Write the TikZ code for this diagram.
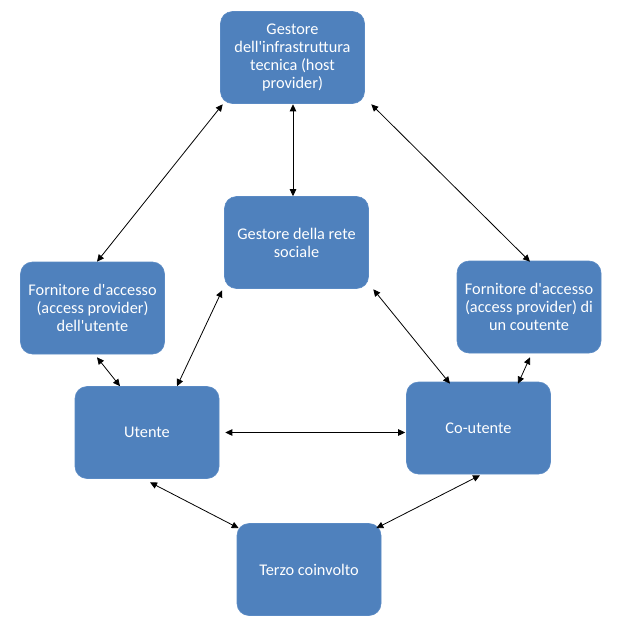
\documentclass[tikz,border=0pt]{standalone}
\usepackage{fontspec}
\setmainfont{Carlito}[Ligatures=TeXOff]
\usetikzlibrary{arrows.meta}
\definecolor{boxblue}{HTML}{4F81BD}
\definecolor{boxedge}{HTML}{5A8AC4}
\begin{document}
\begin{tikzpicture}[x=1pt,y=-1pt,
  box/.style={rectangle, rounded corners=12pt, fill=boxblue, draw=boxedge, line width=0.6pt,
    minimum width=144pt, minimum height=92pt, text=white, align=center,
    font=\fontsize{16.3}{18}\selectfont, inner sep=2pt},
  link/.style={line width=0.8pt, draw=black, {Triangle[length=7pt,width=6.5pt]}-{Triangle[length=7pt,width=6.5pt]}}]
\useasboundingbox (0,0) rectangle (624,632);
\node[box] (top) at (292.5,57.5) {Gestore\\dell'infrastruttura\\tecnica (host\\provider)};
\node[box] (mid) at (296.5,242.5) {Gestore della rete\\sociale};
\node[box] (left) at (92.5,308) {Fornitore d'accesso\\(access provider)\\dell'utente};
\node[box] (right) at (529,307) {Fornitore d'accesso\\(access provider) di\\un coutente};
\node[box] (ut) at (147,432.5) {Utente};
\node[box] (co) at (478.5,428) {Co-utente};
\node[box] (terzo) at (309,569.5) {Terzo coinvolto};
% connectors
\draw[link] ([xshift=2.5pt,yshift=-0.5pt]top.south west) -- ([xshift=4.5pt]left.north);
\draw[link] ([xshift=0.5pt,yshift=-0.5pt]top.south) -- ([xshift=-3.5pt]mid.north);
\draw[link] ([xshift=6.5pt,yshift=-0.5pt]top.south east) -- ([xshift=1pt,yshift=-1pt]right.north);
\draw[link] ([xshift=4.5pt,yshift=-3pt]left.south) -- ([xshift=-27pt]ut.north);
\draw[link] ([xshift=-2pt,yshift=-1.5pt]mid.south west) -- ([xshift=30pt]ut.north);
\draw[link] ([xshift=4.5pt,yshift=-0.5pt]mid.south east) -- ([xshift=-28.5pt,yshift=-2pt]co.north);
\draw[link] ([xshift=1pt,yshift=-4pt]right.south) -- ([xshift=39.5pt,yshift=-2pt]co.north);
\draw[link] ([xshift=6pt]ut.east) -- ([xshift=-1pt,yshift=-4.5pt]co.west);
\draw[link] ([xshift=3pt,yshift=-3.5pt]ut.south) -- ([xshift=2pt,yshift=-5pt]terzo.north west);
\draw[link] ([xshift=1.5pt,yshift=-1pt]co.south) -- ([xshift=-5pt,yshift=-5pt]terzo.north east);
\end{tikzpicture}
\end{document}
